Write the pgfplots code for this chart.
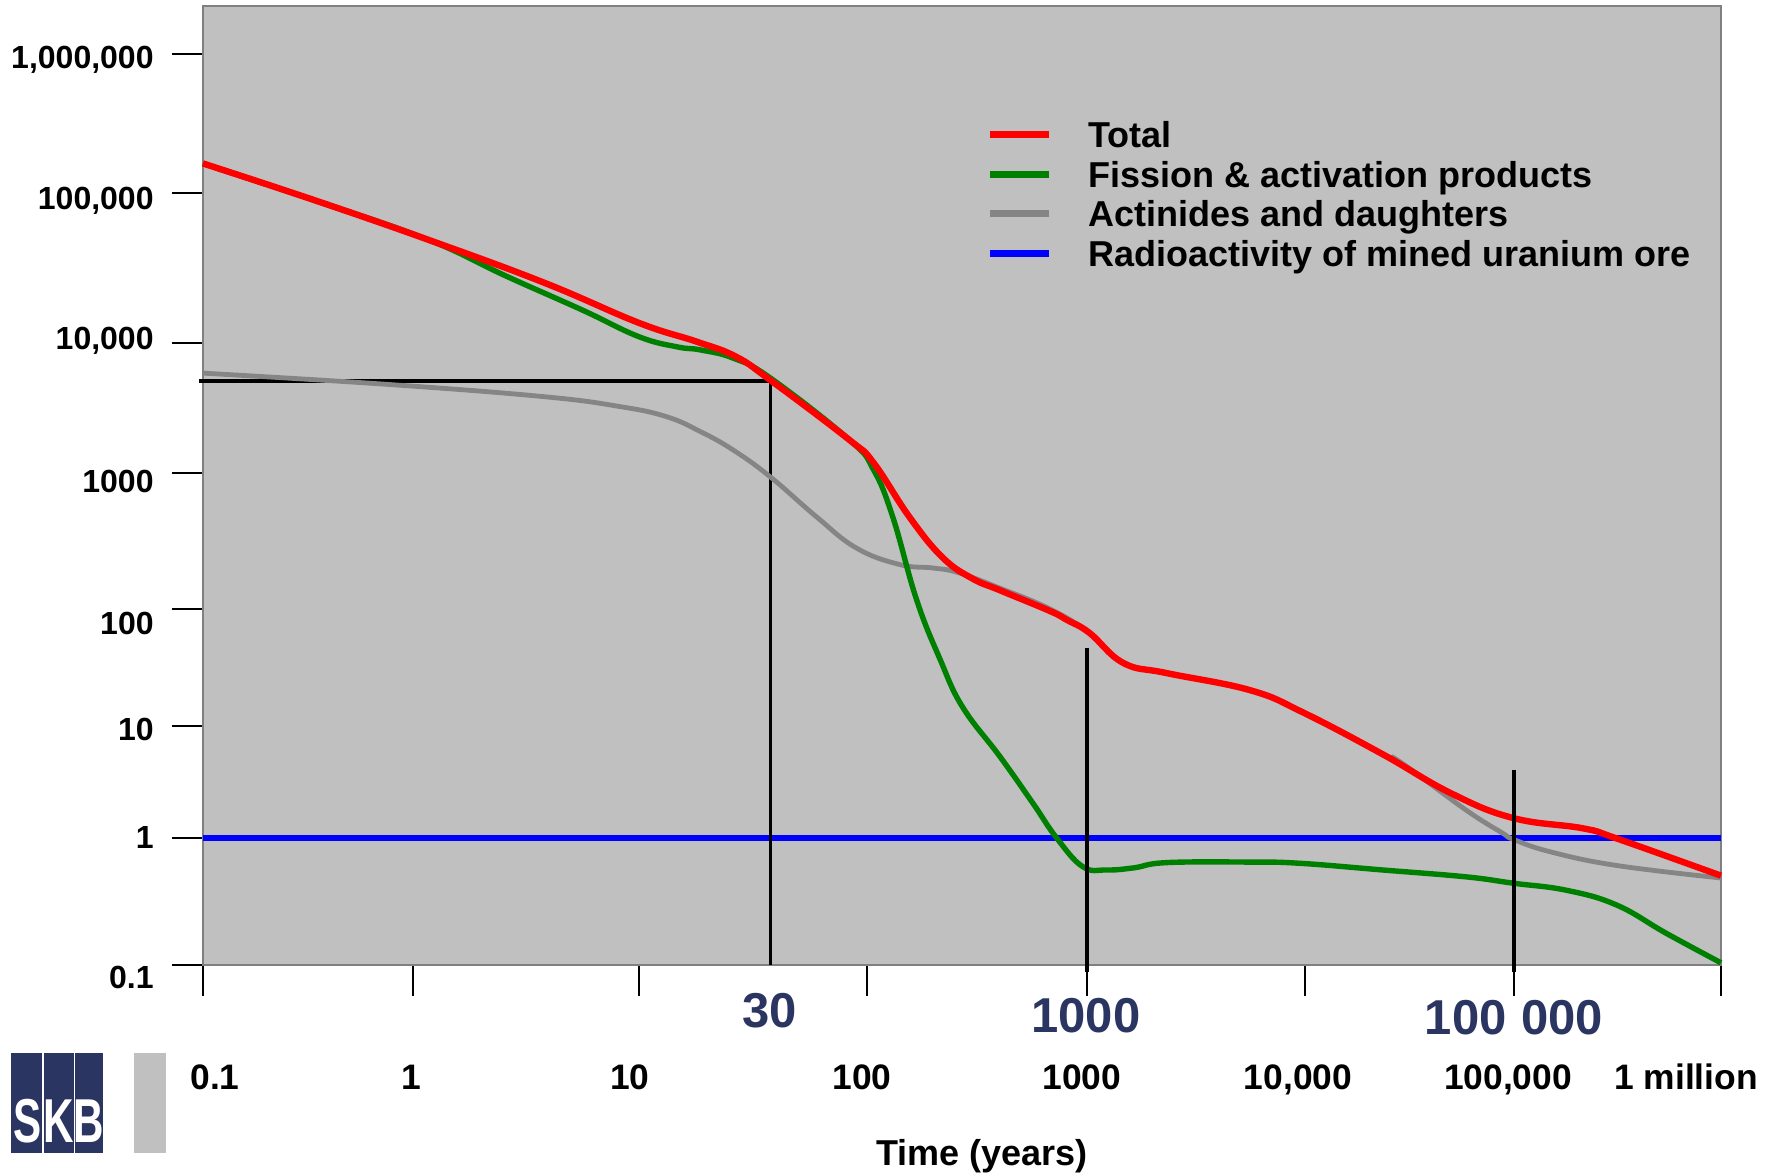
\documentclass[border=0pt]{standalone}
\usepackage{fontspec}
\setmainfont{Liberation Sans}
\usepackage{pgfplots}
\pgfplotsset{compat=1.18}

\definecolor{plotbg}{HTML}{C0C0C0}
\definecolor{framegray}{HTML}{808080}
\definecolor{fissgreen}{HTML}{008000}
\definecolor{actgray}{HTML}{858585}
\definecolor{skbnavy}{RGB}{42,54,97}

% The source chart is drawn on a "log" scale whose decades are not equally
% long. #1 = positions (px) of the decade ticks 0.1, 1, ..., 1e6 read off the
% picture, #2 = the value; result = position, linear inside each decade.
\newcommand\decadepos[2]{%
  \begingroup
    \pgfkeys{/pgf/fpu=true,/pgf/fpu/output format=fixed}%
    \pgfmathparse{ln(#2)/ln(10)}%
    \global\let\decadelog\pgfmathresult
  \endgroup
  \begingroup
    \pgfkeys{/pgf/fpu=false}%
    \pgfmathtruncatemacro\decadek{max(0,min(6,floor(\decadelog)+1))}%
    \pgfmathparse{{#1}[\decadek]+(\decadelog+1-\decadek)*({#1}[\decadek+1]-{#1}[\decadek])}%
    \global\let\decaderesult\pgfmathresult
  \endgroup
  \let\pgfmathresult\decaderesult}

% bold text of size #1 pt, box height = cap height so that anchors sit on the caps
\tikzset{lbl/.style={inner sep=0pt, text depth=0pt, text height=#1*0.72pt,
  font=\fontsize{#1}{#1}\selectfont\bfseries}}

\begin{document}
\begin{tikzpicture}
\path[use as bounding box] (0,0) rectangle (887pt,588pt);

\begin{axis}[
  at={(101.5pt,105.5pt)}, anchor=south west,
  scale only axis, width=759pt, height=479.5pt,
  x coord trafo/.code={\decadepos{0,210,436,664,884,1102,1311,1518}{#1}},
  y coord trafo/.code={\decadepos{0,127,239,356,492,622,772,911}{#1}},
  xmin=0.1, xmax=1000000, ymin=0.1, ymax=2213000,
  xtick={0.1,1,10,100,1000,10000,100000,1000000},
  ytick={0.1,1,10,100,1000,10000,100000,1000000},
  xticklabels={,,,,,,,}, yticklabels={,,,,,,,}, scaled ticks=false,
  xtick pos=bottom, ytick pos=left, tick align=outside,
  major tick length=15.5pt,
  tick style={black, line width=0.9pt},
  axis line style={framegray, line width=1pt},
  axis background/.style={fill=plotbg},
  clip=false, no markers,
]
% radioactivity of mined uranium ore
\addplot[blue, line width=2.8pt] coordinates {(0.1,1) (1000000,1)};

% 30 years marker
\addplot[black, line width=1.6pt, sharp plot] coordinates {(0.096,5100) (37.6,5100) (37.6,0.1)};

% actinides and daughters
\addplot[actgray, line width=2.4pt, smooth, tension=0.7] coordinates {
  (0.1,5860) (0.785,4780) (3.81,3860) (8.24,3240) (13.2,2710) (18.6,2080)
  (25.9,1500) (37.6,938) (60.2,474) (90,280) (141,212) (200,200)
  (260,185) (403,142) (679,100) (1027,62.4) (1470,34.5) (2320,28.3)
  (5610,20.2) (9840,13) (23500,5.6) (28300,4.82) (59100,1.77) (88500,1.1)
  (98600,0.98) (149000,0.78) (314000,0.607) (1000000,0.484)
};

% fission & activation products
\addplot[fissgreen, line width=2.7pt, smooth, tension=0.7] coordinates {
  (0.1,163000) (0.34,89400) (1.17,48700) (2.57,28000) (5.6,16600) (10,11000)
  (14.8,9310) (18.6,8840) (25.9,7640) (37.6,5390) (83.9,1790) (107,1060)
  (131,474) (168,117) (215,37) (272,14.5) (403,5.3) (568,2.04) (728,1.0)
  (957,0.594) (1228,0.56) (1640,0.582) (2320,0.64) (5610,0.646) (9480,0.632)
  (23500,0.56) (59100,0.494) (98600,0.441) (180000,0.387) (314000,0.296)
  (546000,0.177) (1000000,0.104)
};

% total
\addplot[red, line width=3.2pt, smooth, tension=0.7] coordinates {
  (0.1,163000) (0.34,89400) (1.17,48700) (3.81,25200) (10,13600) (17.9,10200)
  (26.5,7880) (37.6,5190) (83.9,1790) (107,1200) (156,474) (220,240)
  (300,168) (403,137) (679,96) (811,80.5) (1027,62.4) (1470,34.5)
  (2320,28.3) (5610,20.2) (9840,13) (23500,5.6) (49700,2.52) (98600,1.51)
  (215000,1.22) (314000,0.99) (1000000,0.505)
};

% 1000 and 100 000 years markers
\addplot[black, line width=1.6pt, sharp plot] coordinates {(1000,46.4) (1000,0.088)};
\addplot[black, line width=1.6pt, sharp plot] coordinates {(100000,4.05) (100000,0.088)};
\end{axis}

% y tick labels
\begin{scope}[every node/.style={lbl=16, anchor=east}]
\node at (77pt,559.5pt) {1,000,000};
\node at (77pt,489pt) {100,000};
\node at (77pt,419pt) {10,000};
\node at (77pt,347.5pt) {1000};
\node at (77pt,276.5pt) {100};
\node at (77pt,223.5pt) {10};
\node at (77pt,169.5pt) {1};
\node at (77pt,99.5pt) {0.1};
\end{scope}

% x tick labels
\begin{scope}[every node/.style={lbl=17.7}]
\node at (107.5pt,49.5pt) {0.1};
\node at (205.5pt,49.5pt) {1};
\node at (315pt,49.5pt) {10};
\node at (431pt,49.5pt) {100};
\node at (541pt,49.5pt) {1000};
\node at (649pt,49.5pt) {10,000};
\node at (754pt,49.5pt) {100,000};
\node at (843pt,49.5pt) {1 million};
\end{scope}
\node[lbl=18] at (491pt,11.5pt) {Time (years)};

% marked times
\begin{scope}[every node/.style={lbl=24.5, text=skbnavy}]
\node at (385pt,83pt) {30};
\node at (543pt,80.5pt) {1000};
\node at (757pt,79.7pt) {100\hspace{0.3em}000};
\end{scope}

% legend
\begin{scope}[every node/.style={lbl=18, anchor=west}]
\draw[red, line width=3.5pt] (495pt,520.7pt) -- (524.5pt,520.7pt);
\node at (544pt,520.7pt) {Total};
\draw[fissgreen, line width=3.5pt] (495pt,500.9pt) -- (524.5pt,500.9pt);
\node at (544pt,500.9pt) {Fission \& activation products};
\draw[actgray, line width=3.5pt] (495pt,481.1pt) -- (524.5pt,481.1pt);
\node at (544pt,481.1pt) {Actinides and daughters};
\draw[blue, line width=3.5pt] (495pt,461.3pt) -- (524.5pt,461.3pt);
\node at (544pt,461.3pt) {Radioactivity of mined uranium ore};
\end{scope}

% SKB logo
\fill[skbnavy] (5.5pt,11.5pt) rectangle (51.5pt,61.5pt);
\draw[white, line width=0.6pt] (21.5pt,11.5pt) -- (21.5pt,61.5pt) (37.3pt,11.5pt) -- (37.3pt,61.5pt);
\begin{scope}[every node/.style={lbl=31, text=white, xscale=0.68, transform shape}]
\node at (13.6pt,27.7pt) {S};
\node at (29.4pt,27.7pt) {K};
\node at (44.4pt,27.7pt) {B};
\end{scope}
\fill[plotbg] (66.9pt,11.5pt) rectangle (83.2pt,61.5pt);
\end{tikzpicture}
\end{document}
